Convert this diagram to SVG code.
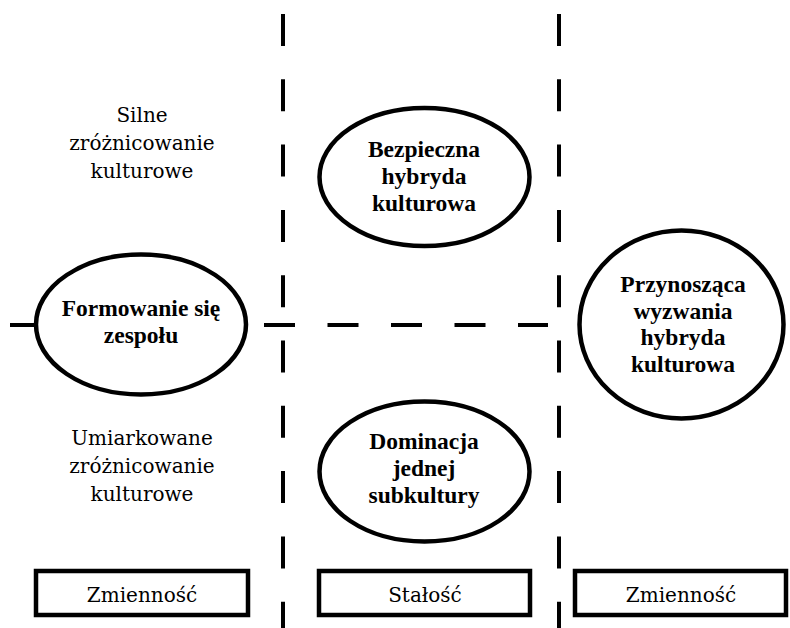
<svg xmlns="http://www.w3.org/2000/svg" width="790" height="628" viewBox="0 0 790 628">
<style>
.bg{fill:#fff}
.dash{stroke:#000;stroke-width:4;fill:none}
.v{stroke-dasharray:32 33.3}
.h{stroke-dasharray:31 32.5}
.node{fill:#fff;stroke:#000;stroke-width:4.5}
.box{fill:#fff;stroke:#000;stroke-width:4.5}
.reg{font-family:"DejaVu Serif","Liberation Serif",serif;font-size:20px;text-anchor:middle;fill:#000}
.bold{font-family:"Liberation Serif","Times New Roman",serif;font-size:23.5px;font-weight:bold;text-anchor:middle;fill:#000}
</style>
<rect class="bg" x="0" y="0" width="790" height="628"/>
<g id="connectors">
<line class="dash v" x1="283" y1="14" x2="283" y2="628"/>
<line class="dash v" x1="559" y1="14" x2="559" y2="628"/>
<line class="dash h" x1="10" y1="325" x2="548" y2="325"/>
</g>
<g id="label-silne">
<text class="reg" x="142" y="122">Silne</text>
<text class="reg" x="142" y="150">zróżnicowanie</text>
<text class="reg" x="142" y="178">kulturowe</text>
</g>
<g id="label-umiarkowane">
<text class="reg" x="142" y="445">Umiarkowane</text>
<text class="reg" x="142" y="473">zróżnicowanie</text>
<text class="reg" x="142" y="501">kulturowe</text>
</g>
<g id="node-formowanie">
<ellipse class="node" cx="141" cy="324.5" rx="105" ry="70"/>
<text class="bold" x="141" y="316">Formowanie się</text>
<text class="bold" x="141" y="343">zespołu</text>
</g>
<g id="node-bezpieczna">
<ellipse class="node" cx="424.5" cy="177" rx="105" ry="69"/>
<text class="bold" x="424" y="157">Bezpieczna</text>
<text class="bold" x="424" y="184">hybryda</text>
<text class="bold" x="424" y="211">kulturowa</text>
</g>
<g id="node-dominacja">
<ellipse class="node" cx="424.5" cy="471.5" rx="105" ry="70"/>
<text class="bold" x="424" y="449">Dominacja</text>
<text class="bold" x="424" y="476">jednej</text>
<text class="bold" x="424" y="503">subkultury</text>
</g>
<g id="node-przynoszaca">
<ellipse class="node" cx="681.5" cy="324.5" rx="102" ry="94"/>
<text class="bold" x="683" y="292">Przynosząca</text>
<text class="bold" x="683" y="319">wyzwania</text>
<text class="bold" x="683" y="345">hybryda</text>
<text class="bold" x="683" y="372">kulturowa</text>
</g>
<g id="box-zmiennosc-1">
<rect class="box" x="36" y="571" width="212" height="44"/>
<text class="reg" x="142" y="602">Zmienność</text>
</g>
<g id="box-stalosc">
<rect class="box" x="319" y="571" width="211" height="44"/>
<text class="reg" x="425" y="602">Stałość</text>
</g>
<g id="box-zmiennosc-2">
<rect class="box" x="575" y="571" width="211" height="44"/>
<text class="reg" x="681" y="602">Zmienność</text>
</g>
</svg>
